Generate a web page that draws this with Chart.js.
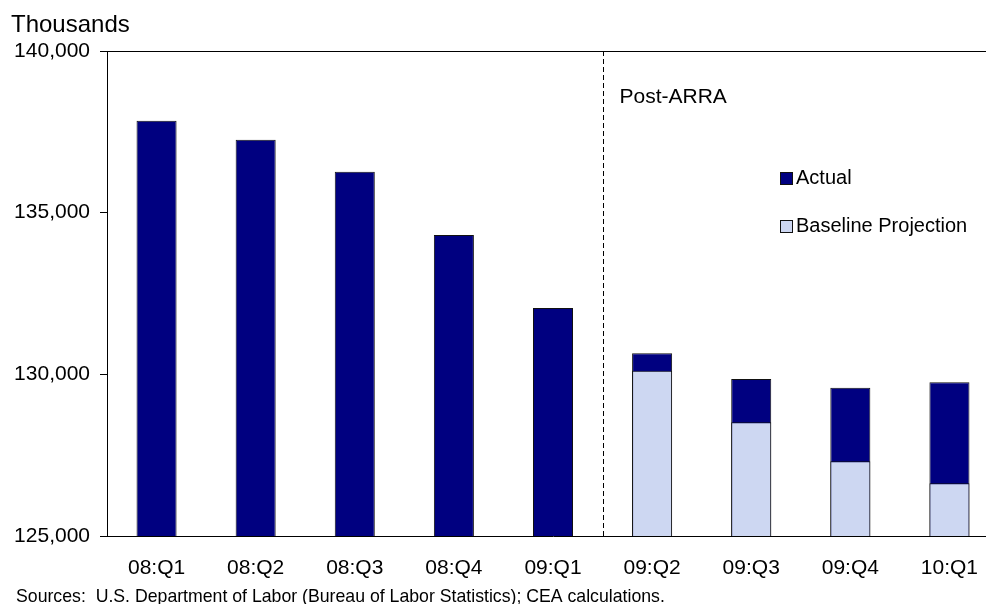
<!DOCTYPE html>
<html>
<head>
<meta charset="utf-8">
<script src="https://cdn.jsdelivr.net/npm/chart.js@4.4.1/dist/chart.umd.min.js"></script>
<style>
  html, body { margin: 0; padding: 0; background: #fff; overflow: hidden; }
  #wrap { position: relative; width: 1000px; height: 604px; }
</style>
</head>
<body>
<div id="wrap"><canvas id="c"></canvas></div>
<script>
// Payroll employment by quarter, thousands of jobs
const quarters = ['08:Q1', '08:Q2', '08:Q3', '08:Q4', '09:Q1', '09:Q2', '09:Q3', '09:Q4', '10:Q1'];
const actual = [137845, 137257, 136267, 134309, 132052, 130650, 129856, 129587, 129753];
const baseline = [null, null, null, null, null, 130112, 128516, 127310, 126630];
const yTicks = [125000, 130000, 135000, 140000];
const seriesNames = ['Actual', 'Baseline Projection'];
const unitLabel = 'Thousands';
const markerLabel = 'Post-ARRA';
const markerAfter = '09:Q1';
const sourceNote = 'Sources:  U.S. Department of Labor (Bureau of Labor Statistics); CEA calculations.';

const NAVY = '#000080';
const LIGHT = '#CDD7F2';
const FONT = 'Arial, "Liberation Sans", sans-serif';

// Dashed divider, annotation, unit label, legend and source line
const extras = {
  id: 'extras',
  afterDatasetsDraw(chart) {
    const { ctx, chartArea, scales } = chart;
    const i = quarters.indexOf(markerAfter);
    const xLine = Math.round((scales.x.getPixelForValue(i) + scales.x.getPixelForValue(i + 1)) / 2) + 0.5;
    ctx.save();
    ctx.strokeStyle = '#000';
    ctx.lineWidth = 1;
    ctx.setLineDash([5, 3]);
    ctx.beginPath();
    ctx.moveTo(xLine, chartArea.top);
    ctx.lineTo(xLine, chartArea.bottom);
    ctx.stroke();
    ctx.setLineDash([]);

    ctx.fillStyle = '#000';
    ctx.textBaseline = 'middle';
    ctx.textAlign = 'left';
    ctx.font = '21px ' + FONT;
    ctx.fillText(markerLabel, xLine + 16, 97);

    ctx.font = '24px ' + FONT;
    ctx.fillText(unitLabel, 11, 25);

    ctx.font = '17.7px ' + FONT;
    ctx.fillText(sourceNote, 16, 597);

    // legend
    const items = [
      { label: seriesNames[0], fill: NAVY, y: 178 },
      { label: seriesNames[1], fill: LIGHT, y: 226 }
    ];
    ctx.font = '20px ' + FONT;
    items.forEach(it => {
      ctx.fillStyle = it.fill;
      ctx.fillRect(780, it.y - 6, 13, 13);
      ctx.strokeStyle = '#111';
      ctx.strokeRect(780.5, it.y - 5.5, 12, 12);
      ctx.fillStyle = '#000';
      ctx.fillText(it.label, 796, it.y);
    });

    // top frame line
    ctx.strokeStyle = '#000';
    ctx.beginPath();
    ctx.moveTo(chartArea.left, chartArea.top + 0.5);
    ctx.lineTo(chartArea.right + 5, chartArea.top + 0.5);
    ctx.stroke();
    ctx.restore();
  }
};

new Chart(document.getElementById('c'), {
  type: 'bar',
  data: {
    labels: quarters,
    datasets: [
      {
        label: seriesNames[0],
        data: actual,
        backgroundColor: NAVY,
        borderColor: '#111',
        borderWidth: 1,
        grouped: false,
        order: 2,
        barPercentage: 0.404,
        categoryPercentage: 1
      },
      {
        label: seriesNames[1],
        data: baseline,
        backgroundColor: LIGHT,
        borderColor: '#111',
        borderWidth: 1,
        grouped: false,
        order: 1,
        barPercentage: 0.404,
        categoryPercentage: 1
      }
    ]
  },
  options: {
    responsive: true,
    maintainAspectRatio: false,
    animation: false,
    layout: { padding: { top: 51, right: 1, left: 0, bottom: 0 } },
    plugins: {
      legend: { display: false },
      tooltip: { enabled: false }
    },
    scales: {
      x: {
        grid: { display: false, drawTicks: false },
        border: { display: true, color: '#000', width: 1 },
        ticks: {
          color: '#000',
          font: { family: FONT, size: 21 },
          padding: 20,
          maxRotation: 0
        },
        afterFit(scale) { scale.height = 68; }
      },
      y: {
        min: 125000,
        max: 140000,
        afterBuildTicks(scale) { scale.ticks = yTicks.map(v => ({ value: v })); },
        grid: {
          drawOnChartArea: false,
          drawTicks: true,
          tickLength: 7,
          tickColor: '#000'
        },
        border: { display: true, color: '#000', width: 1 },
        ticks: {
          color: '#000',
          font: { family: FONT, size: 21 },
          padding: 10,
          callback: v => v.toLocaleString('en-US')
        },
        afterFit(scale) { scale.width = 107; }
      }
    }
  },
  plugins: [extras]
});
</script>
</body>
</html>
